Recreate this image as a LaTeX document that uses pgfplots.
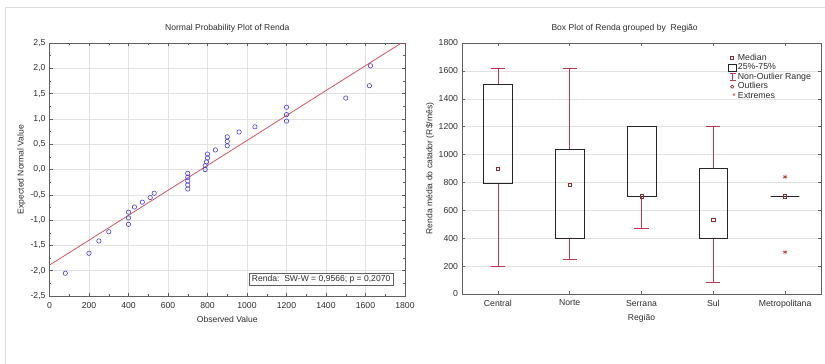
\documentclass[border=0pt]{standalone}
\usepackage{fontspec}
\setmainfont{Liberation Sans}
\usepackage{pgfplots}
\pgfplotsset{compat=1.18}
\usepgfplotslibrary{statistics}
\definecolor{ptblue}{RGB}{70,60,210}
\definecolor{refred}{RGB}{205,85,95}
\definecolor{whisk}{RGB}{190,55,85}
\definecolor{medc}{RGB}{140,45,45}
\definecolor{extc}{RGB}{170,75,55}
\definecolor{gridc}{RGB}{226,226,226}
\definecolor{axc}{RGB}{95,95,95}
\definecolor{txt}{RGB}{45,45,45}

\pgfplotstableread{
x y
80 -2.05
200 -1.656
250 -1.412
300 -1.231
400 -1.084
400 -0.957
400 -0.844
430 -0.741
470 -0.645
510 -0.555
530 -0.469
700 -0.386
700 -0.306
700 -0.228
700 -0.151
700 -0.076
788 0
788 0.076
795 0.151
800 0.228
800 0.306
840 0.386
900 0.469
900 0.555
900 0.645
960 0.741
1040 0.844
1200 0.957
1200 1.084
1200 1.231
1500 1.412
1620 1.656
1625 2.05
}\probdata

\newcommand{\lblfont}{\fontsize{8.6}{10}\selectfont}
\newcommand{\tkfont}{\fontsize{8.7}{10}\selectfont}

\pgfplotsset{
  common/.style={
    scale only axis,
    axis line style={axc},
    tick style={axc, line width=0.5pt},
    tick align=inside,
    major tick length=3bp,
    minor tick length=1.8bp,
    grid style={gridc, line width=0.5pt},
    tick label style={font=\tkfont, text=txt},
    title style={font=\lblfont, text=txt},
    /pgf/number format/assume math mode=true,
  }
}

\begin{document}
\begin{tikzpicture}
\useasboundingbox (0bp,0bp) rectangle (825bp,364bp);
\draw[black!14, line width=0.9bp] (5bp,0bp) -- (5bp,357bp) -- (825bp,357bp);

% ---------------- Normal probability plot ----------------
\begin{axis}[common,
  at={(49.5bp,68bp)}, anchor=south west,
  width=355.5bp, height=253bp,
  xmin=0, xmax=1800, ymin=-2.5, ymax=2.5,
  xtick={0,200,...,1800}, ytick={-2.5,-2,...,2.5},
  minor x tick num=1, minor y tick num=1,
  grid=major,
  x tick label style={yshift=-2.5pt, /pgf/number format/.cd, fixed, 1000 sep={}},
  y tick label style={xshift=-0.5pt, /pgf/number format/.cd, fixed, fixed zerofill, precision=1, use comma},
  title={Normal Probability Plot of Renda},
  title style={at={(axis description cs:0.5,1)}, anchor=base, yshift=7pt},
  xlabel={Observed Value},
  ylabel={Expected Normal Value},
  every axis x label/.style={at={(axis description cs:0.5,-0.094)}, anchor=center, font=\lblfont, text=txt},
  every axis y label/.style={at={(axis description cs:-0.079,0.5)}, rotate=90, anchor=center, font=\lblfont, text=txt},
  clip=true,
]
\addplot[refred, line width=0.8pt] coordinates {(0,-1.89) (1800,2.545)};
\addplot[only marks, mark=o, mark size=2.2pt, mark options={ptblue, line width=0.6pt}] table[x=x,y=y] {\probdata};
\node[draw=axc, fill=white, inner sep=2.4pt, anchor=south east, text=txt, font=\lblfont]
  at (rel axis cs:0.966,0.04) {Renda:\ \ SW-W = 0,9566; p = 0,2070};
\end{axis}

% ---------------- Box plot ----------------
\begin{axis}[common,
  at={(462bp,70bp)}, anchor=south west,
  width=359bp, height=251bp,
  xmin=-0.5, xmax=4.5, ymin=0, ymax=1800,
  ytick={0,200,...,1800},
  xtick={0,1,2,3,4},
  xticklabels={Central,Norte,Serrana,Sul,Metropolitana},
  ymajorgrids,
  x tick label style={yshift=-2.5pt},
  y tick label style={xshift=-0.5pt, /pgf/number format/.cd, fixed, 1000 sep={}},
  title={Box Plot of Renda grouped by\ \ Região},
  title style={at={(axis description cs:0.453,1)}, anchor=base, yshift=7pt},
  xlabel={Região},
  ylabel={Renda média do catador (R\$/mês)},
  every axis x label/.style={at={(axis description cs:0.5,-0.095)}, anchor=center, font=\lblfont, text=txt},
  every axis y label/.style={at={(axis description cs:-0.089,0.5)}, rotate=90, anchor=center, font=\lblfont, text=txt},
  boxplot/draw direction=y,
  boxplot/box extend=0.4,
  boxplot/whisker extend=0.2,
  boxplot/every box/.style={draw=black!85, line width=0.7pt},
  boxplot/every whisker/.style={draw=whisk, line width=0.7pt},
  boxplot/every median/.style={draw=none},
  legend cell align=left,
  legend style={draw=none, fill=none, at={(rel axis cs:0.741,0.962)}, anchor=north west,
    font=\fontsize{8.8}{9}\selectfont, text=txt, row sep=-1pt, inner sep=0pt,
    nodes={inner sep=1.2pt, text height=6.4pt, text depth=1.8pt}},
]
% legend images
\addlegendimage{legend image code/.code={\draw[medc, line width=0.6pt] (2.4bp,-1.5bp) rectangle (5.4bp,1.5bp);}}
\addlegendentry{Median}
\addlegendimage{legend image code/.code={\draw[black!85, line width=0.8pt] (0.3bp,-3.4bp) rectangle (8bp,3.6bp);}}
\addlegendentry{25\%-75\%}
\addlegendimage{legend image code/.code={\draw[whisk, line width=0.7pt] (1.3bp,3.5bp) -- (7.3bp,3.5bp) (4.3bp,3.5bp) -- (4.3bp,-3.5bp) (1.3bp,-3.5bp) -- (7.3bp,-3.5bp);}}
\addlegendentry{Non-Outlier Range}
\addlegendimage{legend image code/.code={\draw[medc, line width=0.6pt] (3.9bp,0) circle (1.6bp);}}
\addlegendentry{Outliers}
\addlegendimage{legend image code/.code={\node[extc, inner sep=0pt, font=\fontsize{9}{9}\selectfont] at (3.9bp,-1.4bp) {*};}}
\addlegendentry{Extremes}

\addplot[boxplot prepared={draw position=0, lower whisker=200, lower quartile=790,
   median=895, upper quartile=1500, upper whisker=1620}] coordinates {};
\addplot[boxplot prepared={draw position=1, lower whisker=250, lower quartile=400,
   median=785, upper quartile=1040, upper whisker=1620}] coordinates {};
\addplot[boxplot prepared={draw position=2, lower whisker=470, lower quartile=700,
   median=700, upper quartile=1200, upper whisker=1200},
   boxplot/draw/upper whisker/.code={}] coordinates {};
\addplot[boxplot prepared={draw position=3, lower whisker=80, lower quartile=400,
   median=530, upper quartile=900, upper whisker=1200}] coordinates {};
\addplot[boxplot prepared={draw position=4, lower whisker=700, lower quartile=700,
   median=700, upper quartile=700, upper whisker=700},
   boxplot/draw/upper whisker/.code={}, boxplot/draw/lower whisker/.code={}] coordinates {};

\addplot[only marks, mark=square, mark size=1.6pt, mark options={medc, line width=0.6pt}]
  coordinates {(0,895) (1,785) (2,700) (3,530) (4,700)};
\addplot[only marks, mark=asterisk, mark size=2.4pt, mark options={extc, line width=0.7pt}]
  coordinates {(4,840) (4,300)};
\end{axis}
\end{tikzpicture}
\end{document}
